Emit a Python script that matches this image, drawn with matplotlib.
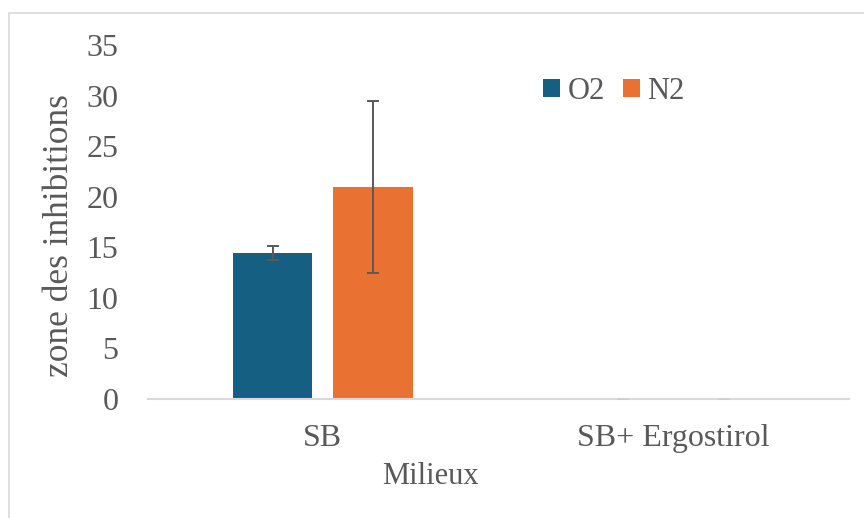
import numpy as np
import matplotlib
matplotlib.use("Agg")
import matplotlib.pyplot as plt
from matplotlib.patches import Rectangle

categories = ["SB", "SB+ Ergostirol"]
o2_values = [14.45, 0]
o2_err = [0.7, 0]
n2_values = [21.0, 0]
n2_err = [8.5, 0]
series_names = ["O2", "N2"]
y_ticks = [0, 5, 10, 15, 20, 25, 30, 35]

plt.rcParams['font.family'] = ['Liberation Serif', 'DejaVu Serif']
txt = "#595959"

fig = plt.figure(figsize=(8.64, 5.18), dpi=100)
W, H = 864, 518
ax = fig.add_axes([147.5 / W, 119 / H, (849 - 147.5) / W, 354 / H])

# light chart frame (only top and left edges visible)
fig.patches.append(Rectangle((9 / W, -0.2), 1.5, 1.2 - 13 / H, transform=fig.transFigure,
                             fill=False, edgecolor="#d9d9d9", linewidth=1.2))

x = np.arange(len(categories))
w = 0.226
off = 0.143
ax.bar(x - off, o2_values, w, color="#156082", label=series_names[0], zorder=2)
ax.bar(x + off, n2_values, w, color="#E97132", label=series_names[1], zorder=2)
for xs, vals, errs in [(x - off, o2_values, o2_err), (x + off, n2_values, n2_err)]:
    for xi, v, e in zip(xs, vals, errs):
        col = "#595959" if v > 0 else "#d0d0d0"
        ax.errorbar(xi, v, yerr=e, fmt="none", ecolor=col, elinewidth=1.4,
                    capsize=4.6, capthick=1.4, zorder=3)

ax.set_xlim(-0.5, 1.5)
ax.set_ylim(0, 35)
ax.set_yticks(y_ticks)
ax.set_xticks(x)
ax.set_xticklabels(categories)
for s in ["top", "right", "left"]:
    ax.spines[s].set_visible(False)
ax.spines["bottom"].set_color("#d9d9d9")
ax.spines["bottom"].set_linewidth(1.5)
ax.tick_params(axis="y", length=0, pad=21, labelsize=23, labelcolor=txt)
ax.tick_params(axis="x", length=0, pad=18, labelsize=23, labelcolor=txt)

fig.text(59 / W, 1 - 236 / H, "zone des inhibitions", rotation=90, ha="center",
         va="center", fontsize=25.5, color=txt)
fig.text(430 / W, 1 - 477 / H, "Milieux", ha="center", va="center",
         fontsize=22, color=txt)

ax.legend(loc="upper left", bbox_to_anchor=(543 / W, 1 - 77 / H), bbox_transform=fig.transFigure,
          ncol=2, frameon=False, fontsize=22, labelcolor=txt, handlelength=0.55,
          handleheight=0.55, handletextpad=0.25, columnspacing=0.6, borderaxespad=0,
          borderpad=0)

fig.savefig("out.png", dpi=100)
